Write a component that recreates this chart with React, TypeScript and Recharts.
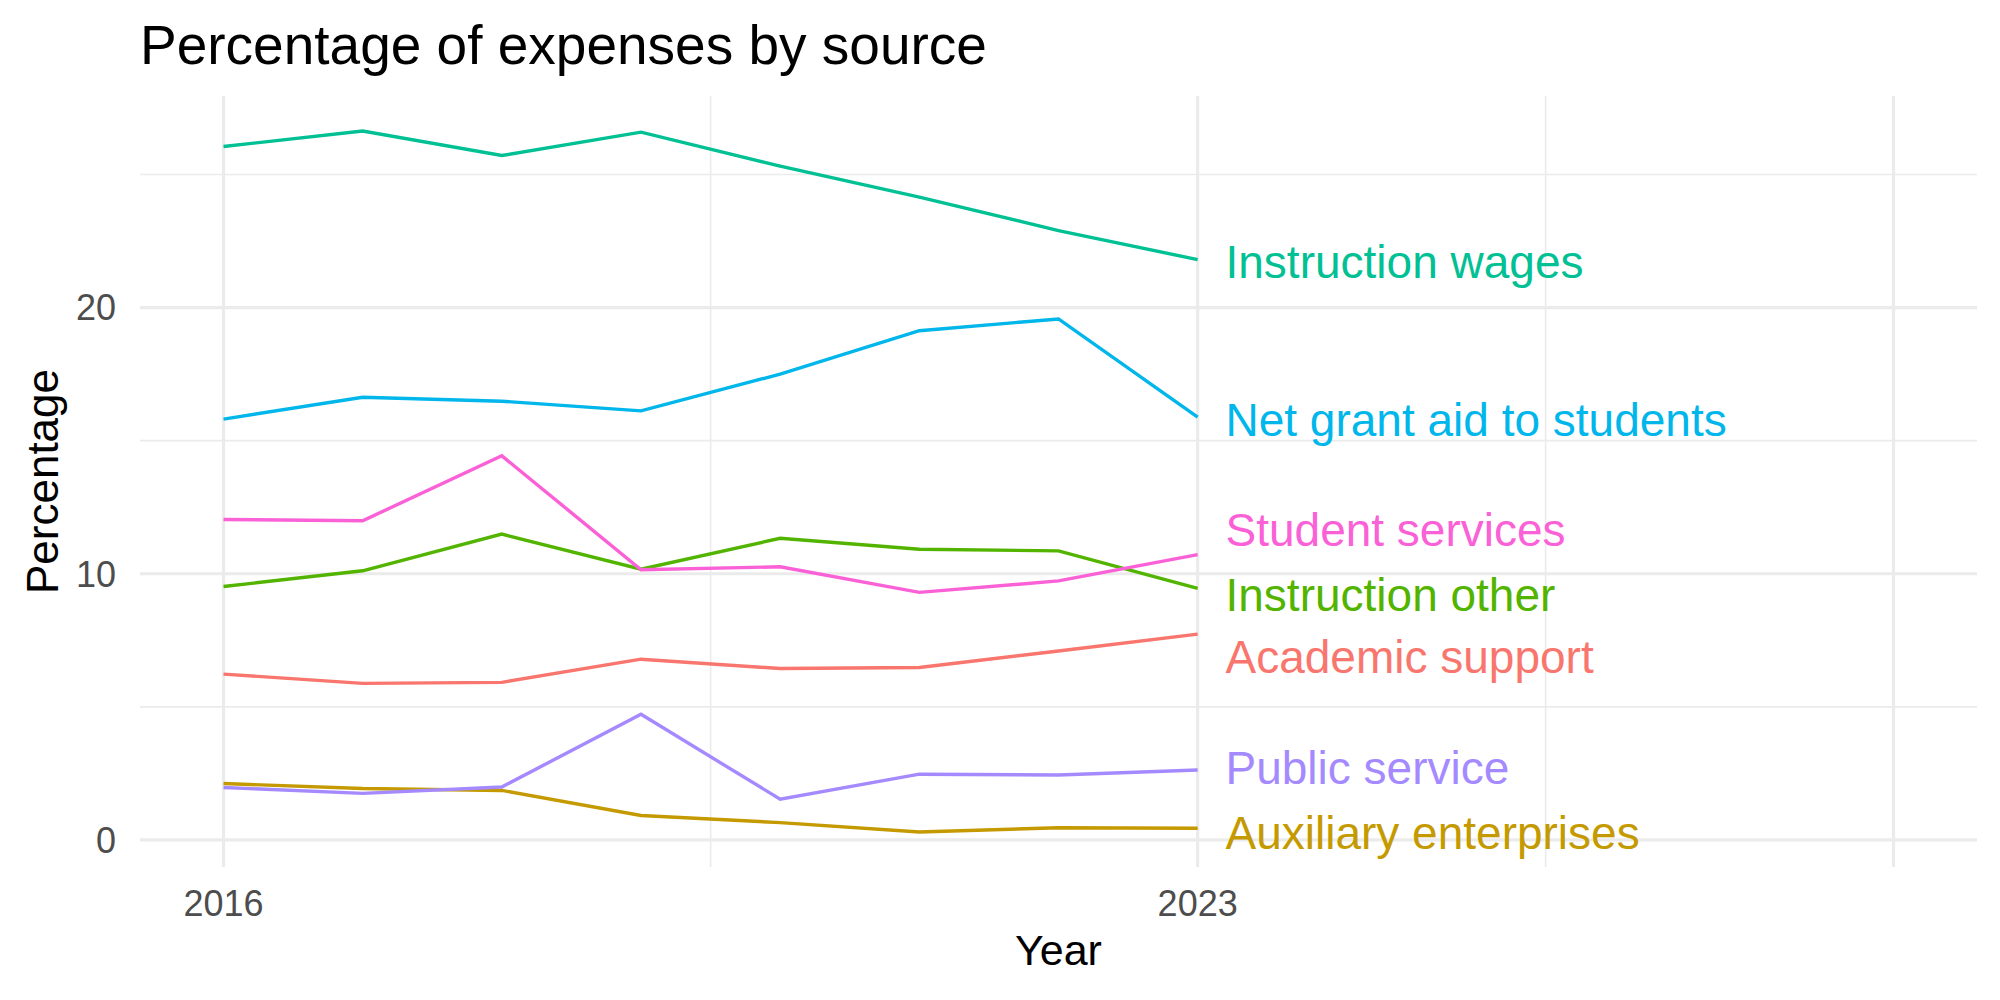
import {
  ComposedChart,
  Line,
  Scatter,
  XAxis,
  YAxis,
  CartesianGrid,
} from "recharts"

const years = [2016, 2017, 2018, 2019, 2020, 2021, 2022, 2023]

const academicSupport = [6.23, 5.88, 5.92, 6.79, 6.44, 6.48, 7.1, 7.73]
const auxiliaryEnterprises = [2.12, 1.93, 1.86, 0.92, 0.65, 0.3, 0.46, 0.44]
const instructionOther = [9.52, 10.11, 11.49, 10.17, 11.33, 10.92, 10.86, 9.45]
const instructionWages = [26.05, 26.63, 25.71, 26.59, 25.31, 24.15, 22.89, 21.8]
const netGrantAid = [15.81, 16.63, 16.48, 16.12, 17.5, 19.13, 19.57, 15.88]
const publicService = [1.97, 1.75, 1.99, 4.72, 1.53, 2.47, 2.44, 2.63]
const studentServices = [12.04, 11.99, 14.43, 10.15, 10.26, 9.3, 9.73, 10.72]

// end-of-line labels, nudged apart so they don't collide
const labelYear = 2023.2
const labelNames = [
  "Academic support",
  "Auxiliary enterprises",
  "Instruction other",
  "Instruction wages",
  "Net grant aid to students",
  "Public service",
  "Student services",
]
const labelValues = [6.88, 0.3, 9.23, 21.74, 15.81, 2.72, 11.68]

const xMajorTicks = [2016, 2023, 2028]
const xMinorTicks = [2019.5, 2025.5]
const yMajorTicks = [0, 10, 20]
const yMinorTicks = [5, 15, 25]
const xLimits = [2016, 2028]

const COLORS = {
  academicSupport: "#F8766D",
  auxiliaryEnterprises: "#C49A00",
  instructionOther: "#53B400",
  instructionWages: "#00C094",
  netGrantAid: "#00B6EB",
  publicService: "#A58AFF",
  studentServices: "#FB61D7",
}

const SERIES: { key: keyof typeof COLORS; values: number[] }[] = [
  { key: "academicSupport", values: academicSupport },
  { key: "auxiliaryEnterprises", values: auxiliaryEnterprises },
  { key: "instructionOther", values: instructionOther },
  { key: "instructionWages", values: instructionWages },
  { key: "netGrantAid", values: netGrantAid },
  { key: "publicService", values: publicService },
  { key: "studentServices", values: studentServices },
]

const rows = years.map((year, i) => {
  const row: Record<string, number> = { year }
  SERIES.forEach((s) => {
    row[s.key] = s.values[i]
  })
  return row
})

const labelData = labelNames.map((name, i) => ({
  year: labelYear,
  value: labelValues[i],
  name,
  color: COLORS[SERIES[i].key],
}))

// ggplot-style 5% expansion on both scales
const allValues = SERIES.flatMap((s) => s.values)
const yLo = Math.min(...allValues)
const yHi = Math.max(...allValues)
const yPad = (yHi - yLo) * 0.05
const yDomain = [yLo - yPad, yHi + yPad]
const xPad = (xLimits[1] - xLimits[0]) * 0.05
const xDomain = [xLimits[0] - xPad, xLimits[1] + xPad]

const FONT = "'Liberation Sans', Arial, Helvetica, sans-serif"
const GRID = "#EBEBEB"

export default function App() {
  return (
    <div
      style={{
        position: "absolute",
        left: 0,
        top: 0,
        width: 2000,
        height: 1000,
        background: "#fff",
        fontFamily: FONT,
      }}
    >
      <div
        style={{
          position: "absolute",
          left: 140,
          top: 18,
          fontSize: 55,
          lineHeight: "55px",
          color: "#000",
          whiteSpace: "nowrap",
        }}
      >
        Percentage of expenses by source
      </div>
      <ComposedChart
        width={2000}
        height={1000}
        data={rows}
        margin={{ top: 96, right: 23, bottom: 0, left: 0 }}
        style={{ fontFamily: FONT }}
      >
        <XAxis
          xAxisId="minor"
          type="number"
          dataKey="year"
          domain={xDomain}
          ticks={xMinorTicks}
          allowDataOverflow
          hide
        />
        <YAxis
          yAxisId="minor"
          type="number"
          domain={yDomain}
          ticks={yMinorTicks}
          allowDataOverflow
          hide
        />
        <XAxis
          xAxisId="major"
          type="number"
          dataKey="year"
          domain={xDomain}
          ticks={xMajorTicks}
          interval={0}
          allowDataOverflow
          height={133}
          axisLine={false}
          tickLine={false}
          tickSize={0}
          tickMargin={23}
          tickFormatter={(v: number) => (v === 2028 ? "" : String(v))}
          tick={{ fontSize: 36, fill: "#4D4D4D" }}
          label={{
            content: ({ viewBox }: any) => (
              <text
                x={viewBox.x + viewBox.width / 2}
                y={viewBox.y + 98}
                textAnchor="middle"
                fontSize={43}
                fill="#000"
              >
                Year
              </text>
            ),
          }}
        />
        <YAxis
          yAxisId="major"
          type="number"
          domain={yDomain}
          ticks={yMajorTicks}
          interval={0}
          allowDataOverflow
          width={140}
          axisLine={false}
          tickLine={false}
          tickSize={0}
          tickMargin={24}
          tick={{ fontSize: 36, fill: "#4D4D4D" }}
          label={{
            content: ({ viewBox }: any) => {
              const cy = viewBox.y + viewBox.height / 2
              return (
                <text
                  x={42}
                  y={cy}
                  dy="0.36em"
                  textAnchor="middle"
                  fontSize={44}
                  fill="#000"
                  transform={`rotate(-90, 42, ${cy})`}
                >
                  Percentage
                </text>
              )
            },
          }}
        />
        <CartesianGrid
          xAxisId="minor"
          yAxisId="minor"
          stroke={GRID}
          strokeWidth={1.6}
          syncWithTicks
        />
        <CartesianGrid
          xAxisId="major"
          yAxisId="major"
          stroke={GRID}
          strokeWidth={3.2}
          syncWithTicks
        />
        {SERIES.map((s) => (
          <Line
            key={s.key}
            xAxisId="major"
            yAxisId="major"
            type="linear"
            dataKey={s.key}
            stroke={COLORS[s.key]}
            strokeWidth={3.4}
            dot={false}
            activeDot={false}
            isAnimationActive={false}
          />
        ))}
        <Scatter
          xAxisId="major"
          yAxisId="major"
          data={labelData}
          dataKey="value"
          isAnimationActive={false}
          shape={(props: any) => (
            <text
              x={props.cx}
              y={props.cy}
              dy="0.36em"
              fontSize={46}
              fill={props.payload.color}
              textAnchor="start"
            >
              {props.payload.name}
            </text>
          )}
        />
      </ComposedChart>
    </div>
  )
}
